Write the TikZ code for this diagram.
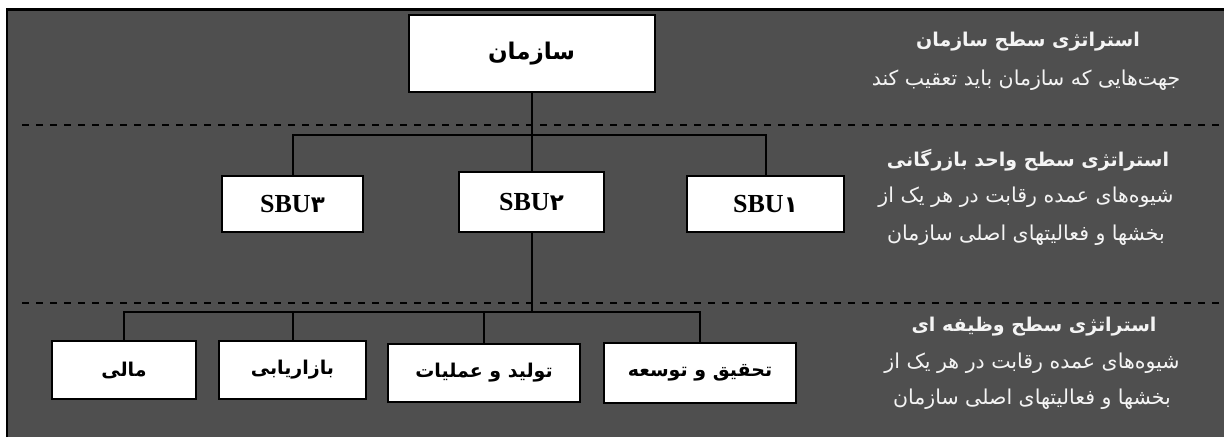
\documentclass[tikz,border=0pt]{standalone}
\usepackage{fontspec}
\newfontfamily\fafont[Script=Arabic]{DejaVu Sans}
\newfontfamily\sbufont{Liberation Serif}
\TeXXeTstate=1
\usetikzlibrary{positioning}
\definecolor{bggray}{HTML}{4F4F4F}
\definecolor{lighttext}{HTML}{F4F4F4}
\tikzset{
  unitbox/.style={
    draw, fill=white, rectangle, line width=2pt, inner sep=0pt,
    font=\fafont\bfseries\fontsize{19}{22}\selectfont
  },
  sbunode/.style={
    unitbox, minimum height=56pt
  },
  funcnode/.style={
    unitbox, minimum height=58pt
  },
  lvltitle/.style={
    text=lighttext, inner sep=0pt, font=\fafont\bfseries\fontsize{19}{22}\selectfont
  },
  lvltext/.style={
    text=lighttext, inner sep=0pt, font=\fafont\fontsize{20.5}{24}\selectfont
  },
  link/.style={line width=2pt},
  sepline/.style={line width=2pt, dash pattern=on 7pt off 7pt}
}
\newcommand{\sbu}[1]{{\sbufont\bfseries\fontsize{26}{28}\selectfont SBU}{\fafont\bfseries\fontsize{23}{28}\selectfont #1}}

\begin{document}
\begin{tikzpicture}[x=1pt,y=-1pt]
 \useasboundingbox (0,0) rectangle (1224,437);
 \fill[white] (0,0) rectangle (1224,437);
 \fill[bggray] (7,9.5) rectangle (1224,437);
 \draw[line width=2.5pt] (7,437) -- (7,9.5) -- (1224,9.5);

 \draw[sepline] (22,125) -- (1221,125);
 \draw[sepline] (22,303) -- (1221,303);

 \node[unitbox, minimum width=246pt, minimum height=77pt,
   font=\fafont\bfseries\fontsize{23}{26}\selectfont] (org) at (531.5,53.5) {\beginR سازمان\endR};
 \node[sbunode, minimum width=141pt] (sbu3) at (292.5,204) {\sbu{۳}};
 \node[sbunode, minimum width=145pt, minimum height=60pt] (sbu2) at (531.5,202) {\sbu{۲}};
 \node[sbunode, minimum width=157pt] (sbu1) at (765.5,204) {\sbu{۱}};

 \node[funcnode, minimum width=144pt] (fin) at (124,370) {\beginR مالی\endR};
 \node[funcnode, minimum width=147pt] (mkt) at (292.5,370) {\beginR بازاریابی\endR};
 \node[funcnode, minimum width=192pt] (ops) at (484,373) {\beginR تولید و عملیات\endR};
 \node[funcnode, minimum width=192pt, minimum height=60pt] (rnd) at (700,373) {\beginR تحقیق و توسعه\endR};

 \coordinate (busA) at (531.5,135);
 \coordinate (busB) at (531.5,312);
 \draw[link] (org) -- (sbu2);
 \draw[link] (sbu3.north) |- (busA) -| (sbu1.north);
 \draw[link] (sbu2) -- (busB);
 \draw[link] (fin.north) |- (busB) -| (rnd.north);
 \draw[link] (mkt.north) |- (busB);
 \draw[link] (ops.north) |- (busB);

 \node[lvltitle] (corp) at (1028,42) {\beginR استراتژی سطح سازمان\endR};
 \node[lvltext] (corpa) at (1026,80) {\beginR جهت‌هایی که سازمان باید تعقیب کند\endR};

 \node[lvltitle] (bus) at (1028,160) {\beginR استراتژی سطح واحد بازرگانی\endR};
 \node[lvltext] (busa) at (1026,197) {\beginR شیوه‌های عمده رقابت در هر یک از\endR};
 \node[lvltext] (busb) at (1026,235) {\beginR بخشها و فعالیتهای اصلی سازمان\endR};

 \node[lvltitle] (func) at (1034,327) {\beginR استراتژی سطح وظیفه ای\endR};
 \node[lvltext] (funca) at (1032,363) {\beginR شیوه‌های عمده رقابت در هر یک از\endR};
 \node[lvltext] (funcb) at (1032,399) {\beginR بخشها و فعالیتهای اصلی سازمان\endR};
\end{tikzpicture}
\end{document}
